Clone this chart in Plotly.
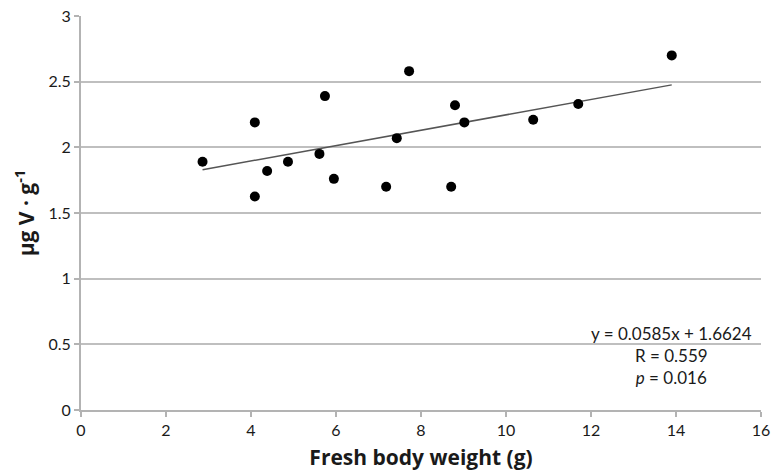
import plotly.graph_objects as go

# Data
body_weight = [2.86, 4.09, 4.09, 4.38, 4.87, 5.61, 5.74, 5.95, 7.18, 7.43, 7.72,
               8.71, 8.80, 9.02, 10.64, 11.70, 13.90]
v_conc = [1.89, 1.625, 2.19, 1.82, 1.89, 1.95, 2.39, 1.76, 1.70, 2.07, 2.58,
          1.70, 2.32, 2.19, 2.21, 2.33, 2.70]

slope = 0.0585
intercept = 1.6624
trend_x = [min(body_weight), max(body_weight)]
trend_y = [slope * x + intercept for x in trend_x]

x_ticks = [0, 2, 4, 6, 8, 10, 12, 14, 16]
y_ticks = [0, 0.5, 1, 1.5, 2, 2.5, 3]
y_ticklabels = ["0", "0.5", "1", "1.5", "2", "2.5", "3"]

font_family = "Lato, 'Open Sans', sans-serif"
title_family = "'Open Sans', Lato, sans-serif"

fig = go.Figure()
fig.add_trace(go.Scatter(x=trend_x, y=trend_y, mode="lines",
                         line=dict(color="#555555", width=1.5),
                         showlegend=False, hoverinfo="skip"))
fig.add_trace(go.Scatter(x=body_weight, y=v_conc, mode="markers",
                         marker=dict(color="#000000", size=10,
                                     line=dict(width=0)),
                         showlegend=False))

fig.add_annotation(
    x=0.99, xref="paper", y=0.0, yref="y", yshift=89,
    xanchor="right", yanchor="top",
    text="y = 0.0585x + 1.6624<br>R = 0.559<br><i>p</i> = 0.016",
    showarrow=False, align="center",
    font=dict(family=font_family, size=17, color="#1a1a1a"),
)

fig.update_layout(
    width=780, height=472,
    margin=dict(l=81, r=19, t=16, b=62, autoexpand=False),
    paper_bgcolor="white", plot_bgcolor="white",
    font=dict(family=font_family, color="#1a1a1a"),
    xaxis=dict(
        range=[0, 16], tickvals=x_ticks, ticktext=[str(t) for t in x_ticks],
        automargin=False,
        showgrid=False, zeroline=False,
        showline=True, linecolor="#b3b3b3", linewidth=2,
        ticks="outside", ticklen=5, tickcolor="#b3b3b3", tickwidth=1.5,
        tickfont=dict(size=16, color="#1a1a1a"),
        title=dict(text="<b>Fresh body weight (g)</b>",
                   font=dict(family=title_family, size=21, color="#1a1a1a"),
                   standoff=12),
    ),
    yaxis=dict(
        range=[0, 3], tickvals=y_ticks, ticktext=y_ticklabels,
        automargin=False,
        showgrid=True, gridcolor="#bfbfbf", gridwidth=1.5,
        zeroline=False,
        showline=True, linecolor="#b3b3b3", linewidth=2,
        ticks="outside", ticklen=5, tickcolor="#b3b3b3", tickwidth=1.5,
        tickfont=dict(size=16, color="#1a1a1a"),
        title=dict(text="<b>µg V · g<sup>-1</sup></b>",
                   font=dict(family=title_family, size=21, color="#1a1a1a"),
                   standoff=8),
    ),
)

fig.write_html("out.html",
               config={"displayModeBar": False},
               post_script="document.body.style.margin='0';document.body.style.padding='0';")
